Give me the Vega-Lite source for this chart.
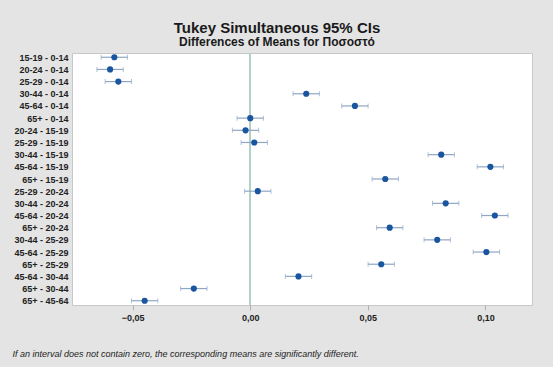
{
  "$schema": "https://vega.github.io/schema/vega-lite/v6.json",
  "width": 460,
  "height": 252,
  "autosize": {"type": "none"},
  "padding": {"left": 72, "top": 53, "right": 21, "bottom": 62},
  "background": "#e4e4e4",
  "title": {
    "text": "Tukey Simultaneous 95% CIs",
    "subtitle": "Differences of Means for Ποσοστό",
    "anchor": "middle",
    "dx": -25,
    "offset": 5,
    "font": "Liberation Sans",
    "fontSize": 15,
    "fontWeight": "bold",
    "color": "#1a1a1a",
    "subtitleFont": "Liberation Sans",
    "subtitleFontSize": 12,
    "subtitleFontWeight": "bold",
    "subtitleColor": "#1a1a1a",
    "subtitlePadding": 1
  },
  "config": {
    "view": {"fill": "white", "stroke": "#c8c8c8", "strokeWidth": 1},
    "font": "Liberation Sans"
  },
  "data": {
    "values": [
      {"pair": "15-19 - 0-14", "diff": -0.0578, "lo": -0.0634, "hi": -0.0522},
      {"pair": "20-24 - 0-14", "diff": -0.0596, "lo": -0.0652, "hi": -0.0540},
      {"pair": "25-29 - 0-14", "diff": -0.0561, "lo": -0.0617, "hi": -0.0505},
      {"pair": "30-44 - 0-14", "diff": 0.0238, "lo": 0.0182, "hi": 0.0294},
      {"pair": "45-64 - 0-14", "diff": 0.0445, "lo": 0.0389, "hi": 0.0501},
      {"pair": "65+ - 0-14", "diff": 0.0000, "lo": -0.0056, "hi": 0.0056},
      {"pair": "20-24 - 15-19", "diff": -0.0020, "lo": -0.0076, "hi": 0.0036},
      {"pair": "25-29 - 15-19", "diff": 0.0017, "lo": -0.0039, "hi": 0.0073},
      {"pair": "30-44 - 15-19", "diff": 0.0812, "lo": 0.0756, "hi": 0.0868},
      {"pair": "45-64 - 15-19", "diff": 0.1021, "lo": 0.0965, "hi": 0.1077},
      {"pair": "65+ - 15-19", "diff": 0.0574, "lo": 0.0518, "hi": 0.0630},
      {"pair": "25-29 - 20-24", "diff": 0.0032, "lo": -0.0024, "hi": 0.0088},
      {"pair": "30-44 - 20-24", "diff": 0.0831, "lo": 0.0775, "hi": 0.0887},
      {"pair": "45-64 - 20-24", "diff": 0.1040, "lo": 0.0984, "hi": 0.1096},
      {"pair": "65+ - 20-24", "diff": 0.0593, "lo": 0.0537, "hi": 0.0649},
      {"pair": "30-44 - 25-29", "diff": 0.0795, "lo": 0.0739, "hi": 0.0851},
      {"pair": "45-64 - 25-29", "diff": 0.1004, "lo": 0.0948, "hi": 0.1060},
      {"pair": "65+ - 25-29", "diff": 0.0557, "lo": 0.0501, "hi": 0.0613},
      {"pair": "45-64 - 30-44", "diff": 0.0205, "lo": 0.0149, "hi": 0.0261},
      {"pair": "65+ - 30-44", "diff": -0.0240, "lo": -0.0296, "hi": -0.0184},
      {"pair": "65+ - 45-64", "diff": -0.0449, "lo": -0.0505, "hi": -0.0393}
    ]
  },
  "encoding": {
    "y": {
      "field": "pair",
      "type": "nominal",
      "sort": null,
      "scale": {"type": "point", "padding": 0.35},
      "axis": {
        "title": null,
        "ticks": false,
        "domain": false,
        "grid": false,
        "labelFontSize": 9,
        "labelFontWeight": "bold",
        "labelColor": "#222222",
        "labelPadding": 4
      }
    }
  },
  "layer": [
    {
      "mark": {"type": "rule", "color": "#b2d0c4", "strokeWidth": 1},
      "encoding": {"x": {"datum": 0, "type": "quantitative"}, "y": null}
    },
    {
      "mark": {"type": "rule", "color": "#8fa6c4", "strokeWidth": 1.2},
      "encoding": {
        "x": {
          "field": "lo",
          "type": "quantitative",
          "scale": {"domain": [-0.0758, 0.1198], "nice": false, "zero": false},
          "axis": {
            "values": [-0.05, 0, 0.05, 0.1],
            "labelExpr": "replace(format(datum.value, '.2f'), '.', ',')",
            "labelFontSize": 9,
            "labelFontWeight": "bold",
            "labelColor": "#222222",
            "labelPadding": 3,
            "tickColor": "#b0b0b0",
            "tickSize": 5,
            "domain": false,
            "grid": false,
            "title": "If an interval does not contain zero, the corresponding means are significantly different.",
            "titleFontStyle": "italic",
            "titleFontWeight": "normal",
            "titleFontSize": 9,
            "titleColor": "#222222",
            "titleAnchor": "start",
            "titleAlign": "left",
            "titleBaseline": "alphabetic",
            "titleX": -60,
            "titleY": 51
          }
        },
        "x2": {"field": "hi"}
      }
    },
    {
      "mark": {"type": "tick", "orient": "vertical", "color": "#8fa6c4", "size": 5, "thickness": 1},
      "encoding": {"x": {"field": "lo", "type": "quantitative"}}
    },
    {
      "mark": {"type": "tick", "orient": "vertical", "color": "#8fa6c4", "size": 5, "thickness": 1},
      "encoding": {"x": {"field": "hi", "type": "quantitative"}}
    },
    {
      "mark": {"type": "circle", "color": "#1a56a0", "opacity": 1, "size": 38},
      "encoding": {"x": {"field": "diff", "type": "quantitative"}}
    }
  ]
}
